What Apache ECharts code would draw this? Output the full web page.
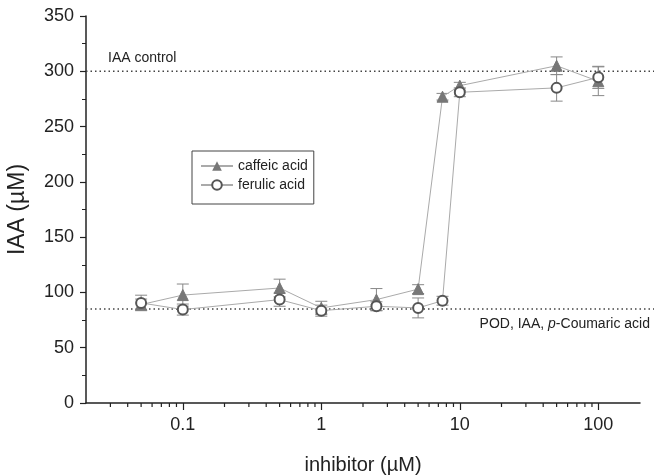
<!DOCTYPE html>
<html>
<head>
<meta charset="utf-8">
<script src="https://cdn.jsdelivr.net/npm/echarts@6/dist/echarts.min.js"></script>
<style>
  html, body { margin: 0; padding: 0; background: #fff; }
  #chart { width: 654px; height: 475px; }
</style>
</head>
<body>
<div id="chart"></div>
<script>
// inhibitor concentrations (µM)
const conc = [0.05, 0.1, 0.5, 1, 2.5, 5, 7.5, 10, 50, 100];
const caffeic = [89, 97.6, 104, 86, 93.5, 103, 277, 287, 305, 291];
const caffeicErr = [5, 10, 8, 6, 10, 4, 3, 3, 8, 13];
const ferulic = [90.5, 84.5, 93.5, 83.5, 87.5, 86, 92.5, 281, 285, 294.5];
const ferulicErr = [7, 5, 6, 5, 4, 9, 4, 4, 12, 10];
const refLines = [
  { value: 300, label: 'IAA control' },
  { value: 85, label: 'POD, IAA, p-Coumaric acid' }
];
const minorTicksX = [
  0.03, 0.04, 0.05, 0.06, 0.07, 0.08, 0.09,
  0.2, 0.3, 0.4, 0.5, 0.6, 0.7, 0.8, 0.9,
  2, 3, 4, 5, 6, 7, 8, 9,
  20, 30, 40, 50, 60, 70, 80, 90
];

const font = 'Liberation Sans, Arial, sans-serif';
const ink = '#222';

function errData(vals, errs) {
  return conc.map((c, i) => [c, vals[i] - errs[i], vals[i] + errs[i]]);
}

function renderErr(params, api) {
  const lo = api.coord([api.value(0), api.value(1)]);
  const hi = api.coord([api.value(0), api.value(2)]);
  const w = 6;
  const style = { stroke: '#888', lineWidth: 1 };
  return {
    type: 'group',
    children: [
      { type: 'line', shape: { x1: lo[0], y1: lo[1], x2: hi[0], y2: hi[1] }, style },
      { type: 'line', shape: { x1: lo[0] - w, y1: lo[1], x2: lo[0] + w, y2: lo[1] }, style },
      { type: 'line', shape: { x1: hi[0] - w, y1: hi[1], x2: hi[0] + w, y2: hi[1] }, style }
    ]
  };
}

const chart = echarts.init(document.getElementById('chart'), null, { renderer: 'canvas' });

chart.setOption({
  animation: false,
  backgroundColor: '#fff',
  textStyle: { fontFamily: font },
  grid: {
    left: 86, right: 14, top: 16, bottom: 72,
    containLabel: false,
    outerBoundsMode: 'none'
  },
  legend: {
    data: ['caffeic acid', 'ferulic acid'],
    left: 192,
    top: 151,
    orient: 'vertical',
    itemWidth: 32,
    itemHeight: 12,
    itemGap: 5,
    padding: [8, 6, 12, 8],
    borderColor: '#444',
    borderWidth: 1,
    textStyle: { fontFamily: font, fontSize: 14, color: ink }
  },
  xAxis: {
    type: 'log',
    logBase: 10,
    min: 0.02,
    max: 200,
    name: 'inhibitor (µM)',
    nameLocation: 'middle',
    nameGap: 52,
    nameTextStyle: { fontFamily: font, fontSize: 20, color: ink },
    axisLine: { lineStyle: { color: ink, width: 1.5 } },
    axisTick: { inside: false, length: 7, lineStyle: { color: ink, width: 1.2 } },
    axisLabel: {
      fontFamily: font, fontSize: 18, color: ink, margin: 13,
      showMinLabel: false, showMaxLabel: false,
      formatter: v => String(v)
    },
    splitLine: { show: false }
  },
  yAxis: {
    type: 'value',
    min: 0,
    max: 350,
    interval: 50,
    name: 'IAA (µM)',
    nameLocation: 'middle',
    nameGap: 57,
    nameTextStyle: { fontFamily: font, fontSize: 23, color: ink },
    axisLine: { show: true, lineStyle: { color: ink, width: 1.5 } },
    axisTick: { show: true, inside: false, length: 6, lineStyle: { color: ink, width: 1.2 } },
    minorTick: { show: true, splitNumber: 2, length: 4, lineStyle: { color: ink, width: 1 } },
    axisLabel: { fontFamily: font, fontSize: 18, color: ink, margin: 12 },
    splitLine: { show: false }
  },
  series: [
    {
      // minor ticks of the log axis at 2..9 of each decade
      type: 'custom',
      silent: true,
      clip: false,
      data: minorTicksX.map(v => [v, 0]),
      renderItem: (params, api) => {
        const p = api.coord([api.value(0), 0]);
        return {
          type: 'line',
          shape: { x1: p[0], y1: p[1], x2: p[0], y2: p[1] + 4 },
          style: { stroke: ink, lineWidth: 1.2 }
        };
      },
      z: 5
    },
    {
      type: 'custom',
      silent: true,
      clip: false,
      data: refLines.map(r => [0.02, r.value]),
      renderItem: (params, api) => {
        const p = api.coord([0.02, api.value(1)]);
        const w = api.getWidth();
        const ref = refLines[params.dataIndex];
        const children = [{
          type: 'line',
          shape: { x1: p[0], y1: p[1], x2: w, y2: p[1] },
          style: { stroke: '#444', lineWidth: 1.5, lineDash: [1.5, 3] }
        }];
        if (params.dataIndex === 0) {
          children.push({
            type: 'text',
            style: {
              x: p[0] + 22, y: p[1] - 6, text: ref.label,
              fontFamily: font, fontSize: 14, fill: ink,
              textAlign: 'left', textVerticalAlign: 'bottom'
            }
          });
        } else {
          children.push({
            type: 'text',
            style: {
              x: w - 4, y: p[1] + 8,
              text: '{n|POD, IAA, }{i|p}{n|-Coumaric acid}',
              rich: {
                n: { fontFamily: font, fontSize: 14, fill: ink, color: ink },
                i: { fontFamily: font, fontSize: 14, fontStyle: 'italic', fill: ink, color: ink }
              },
              textAlign: 'right', textVerticalAlign: 'top'
            }
          });
        }
        return { type: 'group', children };
      },
      z: 1
    },
    {
      name: 'caffeic err',
      type: 'custom',
      silent: true,
      data: errData(caffeic, caffeicErr),
      renderItem: renderErr,
      z: 2
    },
    {
      name: 'ferulic err',
      type: 'custom',
      silent: true,
      data: errData(ferulic, ferulicErr),
      renderItem: renderErr,
      z: 2
    },
    {
      name: 'caffeic acid',
      type: 'line',
      data: conc.map((c, i) => [c, caffeic[i]]),
      symbol: 'triangle',
      symbolSize: 11,
      showAllSymbol: true,
      lineStyle: { color: '#aaa', width: 1 },
      itemStyle: { color: '#777', borderColor: '#777' },
      z: 3
    },
    {
      name: 'ferulic acid',
      type: 'line',
      data: conc.map((c, i) => [c, ferulic[i]]),
      symbol: 'emptyCircle',
      symbolSize: 10,
      showAllSymbol: true,
      lineStyle: { color: '#aaa', width: 1 },
      itemStyle: { color: '#555', borderColor: '#555', borderWidth: 1.3 },
      z: 4
    }
  ]
});

window.addEventListener('resize', () => chart.resize());
</script>
</body>
</html>
